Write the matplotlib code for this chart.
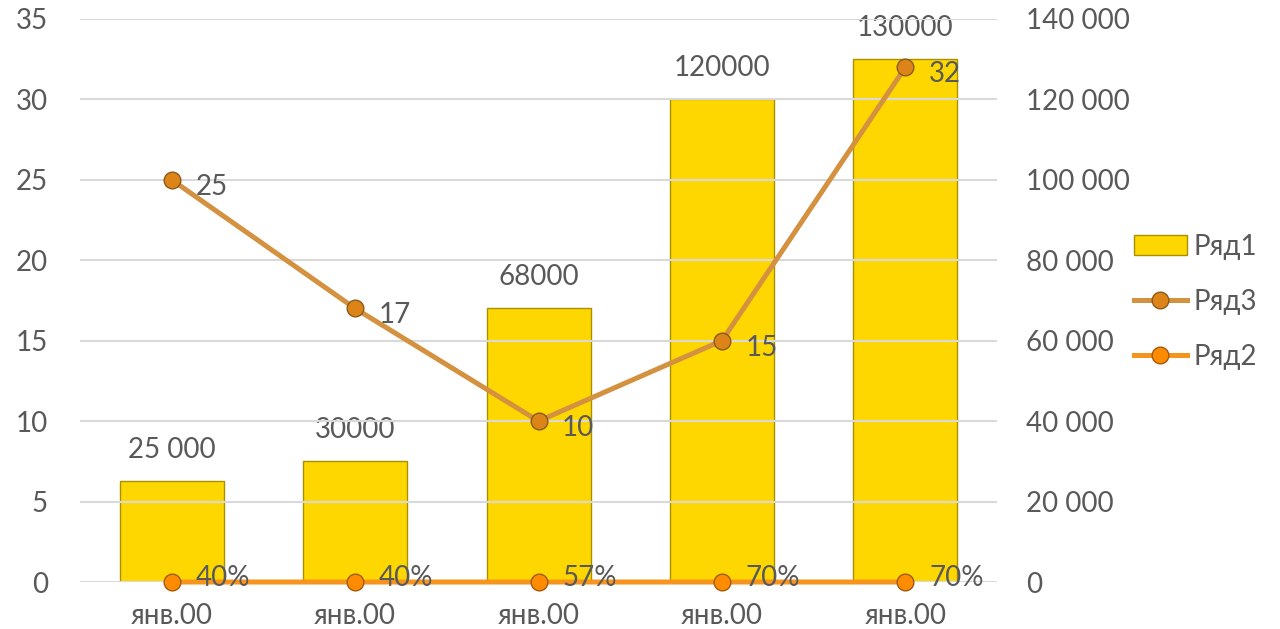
import numpy as np
import matplotlib.pyplot as plt
from matplotlib.patches import Patch

plt.rcParams['font.family'] = ['Lato', 'DejaVu Sans']

# data
categories = ["янв.00", "янв.00", "янв.00", "янв.00", "янв.00"]
row1 = [25000, 30000, 68000, 120000, 130000]
row1_labels = ["25 000", "30000", "68000", "120000", "130000"]
row3 = [25, 17, 10, 15, 32]
row2 = [0.40, 0.40, 0.57, 0.70, 0.70]
row2_labels = ["40%", "40%", "57%", "70%", "70%"]

txt = "#595959"
fs = 20
x = np.arange(len(categories))

fig = plt.figure(figsize=(12.8, 6.29), dpi=100)
ax = fig.add_axes([0.0625, 0.0747, 0.7165, 0.8953])
ax2 = ax.twinx()

# bars (and Ряд2) on the right-hand scale
ax.bar(x, row1, width=0.567, color="#FFD700", edgecolor="#A89000", linewidth=1, zorder=2)
ax.set_ylim(0, 140000)
ax.set_yticks(np.arange(0, 140001, 20000))
ax.set_yticklabels([f"{v:,}".replace(",", " ") for v in range(0, 140001, 20000)])
ax.yaxis.tick_right()
ax.set_xlim(-0.5, 4.5)
ax.set_xticks(x)
ax.set_xticklabels(categories)
ax.tick_params(axis='x', length=0, pad=15, labelsize=fs, colors=txt)
ax.tick_params(axis='y', length=0, pad=21, labelsize=fs, colors=txt)
for s in ax.spines.values():
    s.set_visible(False)
for xi, v, lab in zip(x, row1, row1_labels):
    ax.annotate(lab, (xi, v), xytext=(0, 13), textcoords="offset points",
                ha="center", va="bottom", fontsize=fs, color=txt)

# Ряд3 on the left-hand scale
ax2.set_ylim(0, 35)
ax2.set_yticks(range(0, 36, 5))
ax2.yaxis.tick_left()
ax2.tick_params(axis='y', length=0, pad=23, labelsize=fs, colors=txt)
ax2.grid(axis='y', color="#D9D9D9", linewidth=1.5, zorder=0)
for s in ax2.spines.values():
    s.set_visible(False)

l2, = ax2.plot(x, row2, color="#F7941D", linewidth=3.6, marker="o", markersize=12,
               markerfacecolor="#FF8C00", markeredgecolor="#A05A10", markeredgewidth=1,
               label="Ряд2", zorder=4, clip_on=False,
               transform=ax.transData)
l3, = ax2.plot(x, row3, color="#D4913F", linewidth=3.6, marker="o", markersize=12,
               markerfacecolor="#DD8418", markeredgecolor="#8A5A1A", markeredgewidth=1,
               label="Ряд3", zorder=5, clip_on=False)

for xi, v in zip(x, row3):
    ax2.annotate(str(v), (xi, v), xytext=(17, -5), textcoords="offset points",
                 ha="left", va="center", fontsize=fs, color=txt, zorder=6)
for xi, v, lab in zip(x, row2, row2_labels):
    ax2.annotate(lab, (xi, v), xycoords=ax.transData, xytext=(17, 3),
                 textcoords="offset points", ha="left", va="center",
                 fontsize=fs, color=txt, zorder=6)

# legend
bar_handle = Patch(facecolor="#FFD700", edgecolor="#A89000", label="Ряд1")
fig.legend([bar_handle, l3, l2], ["Ряд1", "Ряд3", "Ряд2"], loc="center left",
           bbox_to_anchor=(0.886, 0.52), frameon=False, fontsize=fs,
           labelcolor=txt, handlelength=1.9, handletextpad=0.25, labelspacing=1.05,
           borderaxespad=0, borderpad=0)

fig.savefig("out.png", dpi=100)
